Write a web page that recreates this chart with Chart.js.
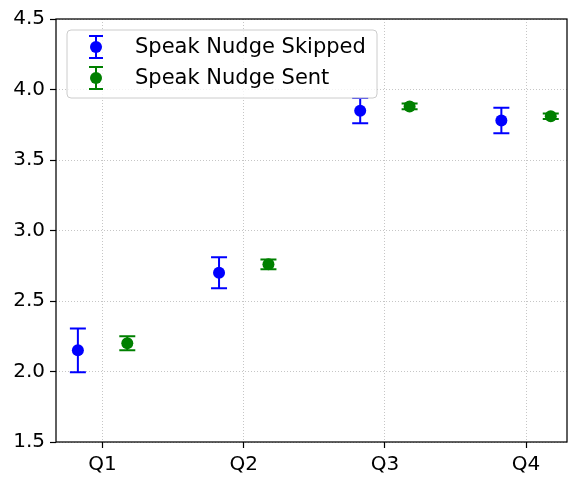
<!DOCTYPE html>
<html>
<head>
<meta charset="utf-8">
<script src="https://cdn.jsdelivr.net/npm/chart.js@4.4.1/dist/chart.umd.min.js"></script>
<style>
  html, body { margin: 0; padding: 0; background: #fff; }
  #wrap { width: 578px; height: 485px; }
</style>
</head>
<body>
<div id="wrap"><canvas id="chart" width="578" height="485"></canvas></div>
<script>
const quarters = ['Q1', 'Q2', 'Q3', 'Q4'];
const skippedMean = [2.15, 2.70, 3.85, 3.78];
const skippedErr = [0.155, 0.11, 0.09, 0.09];
const sentMean = [2.20, 2.76, 3.88, 3.81];
const sentErr = [0.05, 0.035, 0.02, 0.02];
const yTicks = [1.5, 2.0, 2.5, 3.0, 3.5, 4.0, 4.5];
const shift = 0.175;

const FONT = 'DejaVu Sans';
const CAP = 8;

function points(means, errs, dx) {
  return means.map((m, i) => ({ x: i + dx, y: m, err: errs[i] }));
}

// error bars + legend + frame, matplotlib style
const extras = {
  id: 'extras',
  beforeDatasetsDraw(chart) {
    const ctx = chart.ctx;
    const xs = chart.scales.x, ys = chart.scales.y;
    chart.data.datasets.forEach(ds => {
      ctx.save();
      ctx.strokeStyle = ds.backgroundColor;
      ctx.lineWidth = 2;
      ds.data.forEach(p => {
        const px = xs.getPixelForValue(p.x);
        const top = ys.getPixelForValue(p.y + p.err);
        const bot = ys.getPixelForValue(p.y - p.err);
        ctx.beginPath();
        ctx.moveTo(px, top); ctx.lineTo(px, bot);
        ctx.moveTo(px - CAP, top); ctx.lineTo(px + CAP, top);
        ctx.moveTo(px - CAP, bot); ctx.lineTo(px + CAP, bot);
        ctx.stroke();
      });
      ctx.restore();
    });
  },
  afterDraw(chart) {
    const ctx = chart.ctx;
    const a = chart.chartArea;
    ctx.save();
    // frame
    ctx.strokeStyle = '#000';
    ctx.lineWidth = 1.25;
    ctx.strokeRect(a.left, a.top, a.right - a.left, a.bottom - a.top);

    // legend box
    const bx = 67, by = 30, bw = 310, bh = 68, r = 4;
    ctx.beginPath();
    ctx.moveTo(bx + r, by);
    ctx.arcTo(bx + bw, by, bx + bw, by + bh, r);
    ctx.arcTo(bx + bw, by + bh, bx, by + bh, r);
    ctx.arcTo(bx, by + bh, bx, by, r);
    ctx.arcTo(bx, by, bx + bw, by, r);
    ctx.closePath();
    ctx.fillStyle = 'rgba(255,255,255,0.8)';
    ctx.fill();
    ctx.strokeStyle = '#cccccc';
    ctx.lineWidth = 1;
    ctx.stroke();

    ctx.font = '21px "' + FONT + '"';
    ctx.textBaseline = 'middle';
    chart.data.datasets.forEach((ds, i) => {
      const cy = 47 + i * 31;
      const cx = 96;
      ctx.strokeStyle = ds.backgroundColor;
      ctx.lineWidth = 2;
      ctx.beginPath();
      ctx.moveTo(cx, cy - 11); ctx.lineTo(cx, cy + 11);
      ctx.moveTo(cx - 7, cy - 11); ctx.lineTo(cx + 7, cy - 11);
      ctx.moveTo(cx - 7, cy + 11); ctx.lineTo(cx + 7, cy + 11);
      ctx.stroke();
      ctx.fillStyle = ds.backgroundColor;
      ctx.beginPath();
      ctx.arc(cx, cy, 6, 0, Math.PI * 2);
      ctx.fill();
      ctx.fillStyle = '#000';
      ctx.fillText(ds.label, 135, cy + 1);
    });
    ctx.restore();
  }
};

const gridStyle = {
  color: '#b8b8b8',
  lineWidth: 0.8,
  tickColor: '#000',
  tickLength: 6,
  tickBorderDash: [],
  tickWidth: 1.2,
  drawTicks: true
};

const config = {
  type: 'scatter',
  data: {
    datasets: [
      {
        label: 'Speak Nudge Skipped',
        data: points(skippedMean, skippedErr, -shift),
        backgroundColor: '#0000ff',
        borderWidth: 0,
        pointRadius: 6,
        pointHoverRadius: 6
      },
      {
        label: 'Speak Nudge Sent',
        data: points(sentMean, sentErr, shift),
        backgroundColor: '#008000',
        borderWidth: 0,
        pointRadius: 6,
        pointHoverRadius: 6
      }
    ]
  },
  options: {
    responsive: false,
    animation: false,
    events: [],
    layout: { padding: { top: 19, right: 11, left: 0, bottom: 0 } },
    plugins: {
      legend: { display: false },
      tooltip: { enabled: false }
    },
    scales: {
      x: {
        type: 'linear',
        min: -0.33,
        max: 3.29,
        afterBuildTicks(scale) {
          scale.ticks = quarters.map((q, i) => ({ value: i }));
        },
        afterFit(scale) { scale.height = 43; },
        grid: gridStyle,
        border: { display: false, dash: [1, 2] },
        ticks: {
          color: '#000',
          padding: 5,
          maxRotation: 0,
          font: { family: FONT, size: 20 },
          callback: (v) => quarters[v] || ''
        }
      },
      y: {
        min: 1.5,
        max: 4.5,
        afterBuildTicks(scale) {
          scale.ticks = yTicks.map(v => ({ value: v }));
        },
        afterFit(scale) { scale.width = 56; },
        grid: gridStyle,
        border: { display: false, dash: [1, 2] },
        ticks: {
          color: '#000',
          padding: 5,
          font: { family: FONT, size: 20 },
          callback: (v) => v.toFixed(1)
        }
      }
    }
  },
  plugins: [extras]
};

const context = document.getElementById('chart').getContext('2d');
let chart = new Chart(context, config);
</script>
</body>
</html>
